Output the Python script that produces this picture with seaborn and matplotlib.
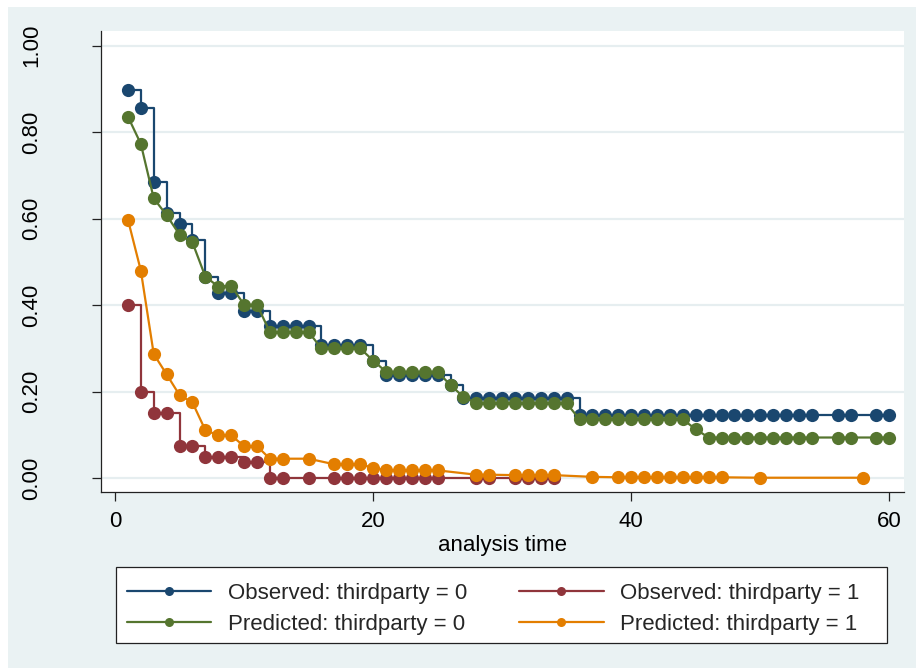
import matplotlib
matplotlib.use("Agg")
import matplotlib.pyplot as plt
from matplotlib.patches import Rectangle
from matplotlib.lines import Line2D
import seaborn as sns

# ---------------- data ----------------
obs0_t = [1, 2, 3, 4, 5, 6, 7, 8, 9, 10, 11, 12, 13, 14, 15, 16, 17, 18, 19, 20,
          21, 22, 23, 24, 25, 26, 27, 28, 29, 30, 31, 32, 33, 34, 35, 36, 37, 38, 39, 40,
          41, 42, 43, 44, 45, 46, 47, 48, 49, 50, 51, 52, 53, 54, 56, 57, 59, 60]
obs0_y = [0.897, 0.855, 0.685, 0.612, 0.587, 0.550, 0.465, 0.428, 0.428, 0.387,
          0.387, 0.352, 0.352, 0.352, 0.352, 0.308, 0.308, 0.308, 0.308, 0.272,
          0.238, 0.238, 0.238, 0.238, 0.238, 0.215, 0.185, 0.185, 0.185, 0.185,
          0.185, 0.185, 0.185, 0.185, 0.185, 0.147, 0.147, 0.147, 0.147, 0.147,
          0.147, 0.147, 0.147, 0.147, 0.147, 0.147, 0.147, 0.147, 0.147, 0.147,
          0.147, 0.147, 0.147, 0.147, 0.147, 0.147, 0.147, 0.147]

pred0_t = obs0_t
pred0_y = [0.836, 0.773, 0.647, 0.608, 0.563, 0.545, 0.466, 0.443, 0.445, 0.401,
           0.401, 0.338, 0.338, 0.338, 0.338, 0.300, 0.300, 0.300, 0.300, 0.272,
           0.246, 0.246, 0.246, 0.246, 0.246, 0.215, 0.188, 0.173, 0.173, 0.173,
           0.173, 0.173, 0.173, 0.173, 0.173, 0.136, 0.136, 0.136, 0.136, 0.136,
           0.136, 0.136, 0.136, 0.136, 0.113, 0.094, 0.094, 0.094, 0.094, 0.094,
           0.094, 0.094, 0.094, 0.094, 0.094, 0.094, 0.094, 0.094]

obs1_t = [1, 2, 3, 4, 5, 6, 7, 8, 9, 10, 11, 12, 13, 15, 17, 18, 19, 20, 21, 22,
          23, 24, 25, 28, 29, 31, 32, 33, 34]
obs1_y = [0.400, 0.200, 0.150, 0.150, 0.075, 0.075, 0.050, 0.050, 0.050, 0.038,
          0.038, 0.0, 0.0, 0.0, 0.0, 0.0, 0.0, 0.0, 0.0, 0.0,
          0.0, 0.0, 0.0, 0.0, 0.0, 0.0, 0.0, 0.0, 0.0]

pred1_t = [1, 2, 3, 4, 5, 6, 7, 8, 9, 10, 11, 12, 13, 15, 17, 18, 19, 20, 21, 22,
           23, 24, 25, 28, 29, 31, 32, 33, 34, 37, 39, 40, 41, 42, 43, 44, 45, 46,
           47, 50, 58]
pred1_y = [0.598, 0.480, 0.287, 0.240, 0.192, 0.175, 0.111, 0.099, 0.099, 0.074,
           0.074, 0.045, 0.045, 0.045, 0.032, 0.032, 0.032, 0.024, 0.018, 0.018,
           0.018, 0.018, 0.018, 0.008, 0.008, 0.007, 0.007, 0.007, 0.007, 0.003,
           0.002, 0.002, 0.002, 0.002, 0.002, 0.002, 0.002, 0.002, 0.002, 0.001,
           0.001]

labels = ["Observed: thirdparty = 0", "Predicted: thirdparty = 0",
          "Observed: thirdparty = 1", "Predicted: thirdparty = 1"]
x_ticks = [0, 20, 40, 60]
y_ticks = [0.0, 0.2, 0.4, 0.6, 0.8, 1.0]
x_label = "analysis time"

# ---------------- style ----------------
sns.set_theme(style="white")
plt.rcParams["font.family"] = ["Liberation Sans", "DejaVu Sans"]
plt.rcParams["font.size"] = 16

C_NAVY = "#1A476F"
C_MAROON = "#90353B"
C_GREEN = "#55752F"
C_ORANGE = "#E37E00"
BG = "#EAF2F3"

W, H = 916, 668
fig = plt.figure(figsize=(W / 100, H / 100), dpi=100, facecolor="white")
fig.add_artist(Rectangle((8 / W, 0), (W - 8) / W, (H - 7) / H,
                         transform=fig.transFigure, facecolor=BG,
                         edgecolor="none", zorder=-10))

ax_l, ax_r, ax_t, ax_b = 100.7, 904, 31, 492
ax = fig.add_axes([ax_l / W, 1 - ax_b / H, (ax_r - ax_l) / W, (ax_b - ax_t) / H])
ax.set_facecolor("white")

for yv in y_ticks:
    ax.axhline(yv, color="#E6EEF0", linewidth=1.6, zorder=0)

common = dict(marker="o", markersize=9.5, markeredgewidth=0, linewidth=1.6,
              estimator=None, sort=False, errorbar=None, legend=False, ax=ax)
sns.lineplot(x=obs0_t, y=obs0_y, color=C_NAVY, drawstyle="steps-post", **common)
sns.lineplot(x=obs1_t, y=obs1_y, color=C_MAROON, drawstyle="steps-post", **common)
sns.lineplot(x=pred0_t, y=pred0_y, color=C_GREEN, **common)
sns.lineplot(x=pred1_t, y=pred1_y, color=C_ORANGE, **common)

ax.set_xlim(-1.11, 61.14)
ax.set_ylim(-0.032, 1.034)
ax.set_xticks(x_ticks)
ax.set_xticklabels([str(v) for v in x_ticks])
ax.set_yticks(y_ticks)
ax.set_yticklabels([f"{v:.2f}" for v in y_ticks])

for s in ["top", "right"]:
    ax.spines[s].set_visible(False)
for s in ["left", "bottom"]:
    ax.spines[s].set_color("#222222")
    ax.spines[s].set_linewidth(0.9)

ax.tick_params(axis="both", which="both", direction="out", color="#222222",
               width=0.9, labelsize=16, labelcolor="black")
ax.tick_params(axis="y", length=6.5, pad=35.5, left=True)
ax.tick_params(axis="x", length=6.2, pad=7.5, bottom=True)
for lab in ax.get_yticklabels():
    lab.set_rotation(90)
    lab.set_va("center")
    lab.set_ha("right")

ax.set_xlabel(x_label, fontsize=16, labelpad=2, color="black")
ax.set_ylabel("")

# ---------------- legend ----------------
fig.add_artist(Rectangle((116 / W, 1 - 643 / H), 771 / W, 76 / H,
                         transform=fig.transFigure, facecolor="white",
                         edgecolor="#222222", linewidth=0.9, zorder=1))
handles = [Line2D([], [], color=c, marker="o", markersize=6.5, linewidth=1.6,
                  markeredgewidth=0)
           for c in [C_NAVY, C_GREEN, C_MAROON, C_ORANGE]]
fig.legend(handles, labels, ncol=2, frameon=False, loc="upper left",
           bbox_to_anchor=(127 / W, 1 - 583 / H), bbox_transform=fig.transFigure,
           handlelength=3.8, handletextpad=0.75, columnspacing=2.33,
           labelspacing=0.43, borderpad=0, borderaxespad=0, fontsize=16)

fig.savefig("out.png", dpi=100, facecolor=fig.get_facecolor())
